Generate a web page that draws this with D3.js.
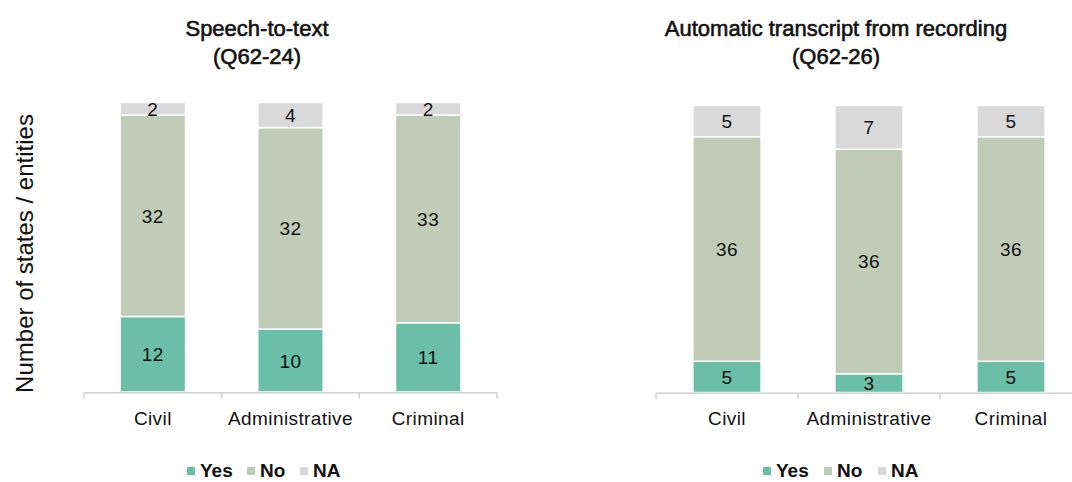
<!DOCTYPE html>
<html>
<head>
<meta charset="utf-8">
<script src="https://cdn.jsdelivr.net/npm/d3@7"></script>
<style>
  html, body { margin: 0; padding: 0; background: #ffffff; }
  svg { display: block; }
  text { font-family: "Liberation Sans", Arial, sans-serif; fill: #111; }
</style>
</head>
<body>
<svg id="chart" width="1072" height="482"></svg>
<script>
// ---- Data ----
const categories = ["Civil", "Administrative", "Criminal"];
const seriesNames = ["Yes", "No", "NA"];
const seriesColors = ["#6bbfa6", "#c0ccb7", "#d9d9d9"];

const leftTitle = ["Speech-to-text", "(Q62-24)"];
const leftYes = [12, 10, 11];
const leftNo  = [32, 32, 33];
const leftNA  = [2, 4, 2];

const rightTitle = ["Automatic transcript from recording", "(Q62-26)"];
const rightYes = [5, 3, 5];
const rightNo  = [36, 36, 36];
const rightNA  = [5, 7, 5];

const yMax = 46;
const yLabel = "Number of states / entities";

// ---- Drawing ----
const svg = d3.select("#chart");

function panel(opts) {
  const g = svg.append("g");
  const x = d3.scaleBand().domain(categories).range([opts.x0, opts.x1]).padding(0);
  const y = d3.scaleLinear().domain([0, yMax]).range([opts.yBase, opts.yTop]);
  const rows = categories.map((c, i) => ({ cat: c, Yes: opts.yes[i], No: opts.no[i], NA: opts.na[i] }));
  const stacked = d3.stack().keys(seriesNames)(rows);
  const bw = x.bandwidth() * opts.barFrac;

  // title
  [0, 1].forEach(k => {
    g.append("text")
      .attr("x", opts.titleX).attr("y", 36 + k * 28)
      .attr("text-anchor", "middle")
      .style("font-size", "22px")
      .style("stroke", "#111").style("stroke-width", "0.6px")
      .text(opts.title[k]);
  });

  // bars
  stacked.forEach((layer, li) => {
    g.append("g").selectAll("rect")
      .data(layer)
      .join("rect")
      .attr("x", d => x(d.data.cat) + (x.bandwidth() - bw) / 2)
      .attr("width", bw)
      .attr("y", d => y(d[1]))
      .attr("height", d => y(d[0]) - y(d[1]))
      .attr("fill", seriesColors[li])
      .attr("stroke", "#ffffff")
      .attr("stroke-width", 1.5);
  });

  // data labels
  stacked.forEach((layer) => {
    g.append("g").selectAll("text")
      .data(layer)
      .join("text")
      .attr("x", d => x(d.data.cat) + x.bandwidth() / 2)
      .attr("y", d => (y(d[0]) + y(d[1])) / 2 + 7)
      .attr("text-anchor", "middle")
      .style("font-size", "19px")
      .style("letter-spacing", "0.5px")
      .text(d => d[1] - d[0]);
  });

  // x axis
  const axisG = g.append("g").attr("transform", `translate(0,${opts.axisY})`);
  axisG.append("line")
    .attr("x1", opts.x0).attr("x2", opts.x1)
    .attr("stroke", "#d0d0d0").attr("stroke-width", 1.5);
  const bounds = categories.map(c => x(c)).concat([opts.x1]);
  axisG.selectAll("line.tick")
    .data(bounds)
    .join("line")
    .attr("class", "tick")
    .attr("x1", d => d).attr("x2", d => d)
    .attr("y1", 0).attr("y2", 6)
    .attr("stroke", "#d0d0d0").attr("stroke-width", 1.5);
  axisG.selectAll("text")
    .data(categories)
    .join("text")
    .attr("x", d => x(d) + x.bandwidth() / 2)
    .attr("y", 32)
    .attr("text-anchor", "middle")
    .style("font-size", "19px")
    .style("letter-spacing", "0.4px")
    .text(d => d);

  // legend
  const lg = g.append("g");
  seriesNames.forEach((s, i) => {
    lg.append("rect")
      .attr("x", opts.legendX[i]).attr("y", 467)
      .attr("width", 8).attr("height", 8)
      .attr("fill", seriesColors[i]);
    lg.append("text")
      .attr("x", opts.legendX[i] + 13).attr("y", 477)
      .style("font-size", "19px")
      .style("font-weight", "bold")
      .text(s);
  });
}

panel({
  x0: 84, x1: 497, yBase: 392, yTop: 102.5, axisY: 392.7, barFrac: 0.475,
  yes: leftYes, no: leftNo, na: leftNA, title: leftTitle, titleX: 257,
  legendX: [187, 247, 300]
});
panel({
  x0: 656, x1: 1082, yBase: 392.5, yTop: 105.5, axisY: 393.3, barFrac: 0.48,
  yes: rightYes, no: rightNo, na: rightNA, title: rightTitle, titleX: 836,
  legendX: [763, 824, 878]
});

// y axis label
svg.append("text")
  .attr("transform", "translate(33,253.5) rotate(-90)")
  .attr("text-anchor", "middle")
  .style("font-size", "24px")
  .text(yLabel);
</script>
</body>
</html>
